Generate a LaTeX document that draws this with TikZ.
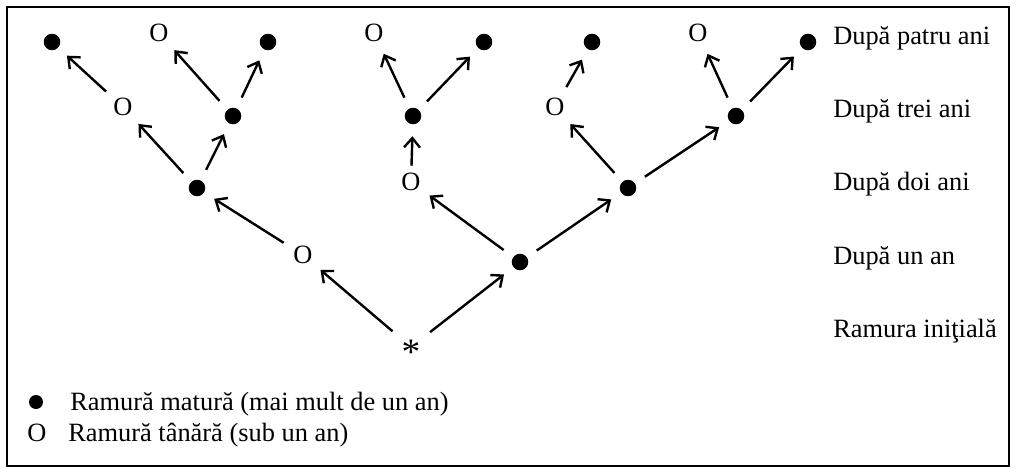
\documentclass[tikz,border=0pt]{standalone}
\usepackage{fontspec}
\setmainfont{Liberation Serif}
\usetikzlibrary{arrows.meta}
\begin{document}
\begin{tikzpicture}[x=0.75pt,y=-0.75pt,
  font=\fontsize{19.8}{24}\selectfont,
  mature/.style={circle, minimum size=30pt, inner sep=0pt,
    path picture={\fill (path picture bounding box.center) circle (6.2pt);}},
  young/.style={circle, minimum size=34pt, inner sep=0pt},
  rootstar/.style={circle, minimum size=36pt, inner sep=0pt, font=\fontsize{28}{34}\selectfont},
  legdot/.style={circle, fill=black, minimum size=10.5pt, inner sep=0pt},
  branchline/.style={-{Straight Barb[length=7pt,width=12pt]}, line width=1.8pt},
  lbl/.style={anchor=base west, inner sep=0pt},
  frame/.style={line width=1.3pt}]
\useasboundingbox (0,0) rectangle (1016,470);
\draw[frame] (7,7) rectangle (1009,466);

% tree nodes
\node[rootstar] (r) at (411,347) {\smash{\raisebox{-13pt}{*}}};
\node[young]  (a)    at (303,255) {O};
\node[mature] (b)    at (520,262) {};
\node[mature] (aa)   at (197,188) {};
\node[young]  (ba)   at (411,182) {O};
\node[mature] (bb)   at (628,188) {};
\node[young]  (aaa)  at (123,107) {O};
\node[mature] (aab)  at (233,116) {};
\node[mature] (baa)  at (413,116) {};
\node[young]  (bba)  at (555,107) {O};
\node[mature] (bbb)  at (736,116) {};
\node[mature] (aaaa) at (52,42) {};
\node[young]  (aaba) at (159,33) {O};
\node[mature] (aabb) at (268,42) {};
\node[young]  (baaa) at (374,33) {O};
\node[mature] (baab) at (484,42) {};
\node[mature] (bbaa) at (592,42) {};
\node[young]  (bbba) at (698,33) {O};
\node[mature] (bbbb) at (808,42) {};

% connectors
\draw[branchline] (r) -- (a);
\draw[branchline] (r) -- (b);
\draw[branchline] (a) -- (aa);
\draw[branchline] (b) -- (ba);
\draw[branchline] (b) -- (bb);
\draw[branchline] (aa) -- (aaa);
\draw[branchline] (aa) -- (aab);
\draw[branchline, shorten <=-5pt] (ba) -- (baa);
\draw[branchline] (bb) -- (bba);
\draw[branchline] (bb) -- (bbb);
\draw[branchline] (aaa) -- (aaaa);
\draw[branchline] (aab) -- (aaba);
\draw[branchline] (aab) -- (aabb);
\draw[branchline] (baa) -- (baaa);
\draw[branchline] (baa) -- (baab);
\draw[branchline] (bba) -- (bbaa);
\draw[branchline] (bbb) -- (bbba);
\draw[branchline] (bbb) -- (bbbb);

% level labels
\node[lbl] (l4) at (833,45)  {După patru ani};
\node[lbl] (l3) at (833,118) {După trei ani};
\node[lbl] (l2) at (833,191) {După doi ani};
\node[lbl] (l1) at (833,264) {După un an};
\node[lbl] (l0) at (833,337) {Ramura iniţială};

% legend
\node[legdot] (kd) at (36,402) {};
\node[lbl] (ko) at (27,441) {O};
\node[lbl] (kdt) at (70,410) {Ramură matură (mai mult de un an)};
\node[lbl] (kot) at (68,441) {Ramură tânără (sub un an)};
\end{tikzpicture}
\end{document}
